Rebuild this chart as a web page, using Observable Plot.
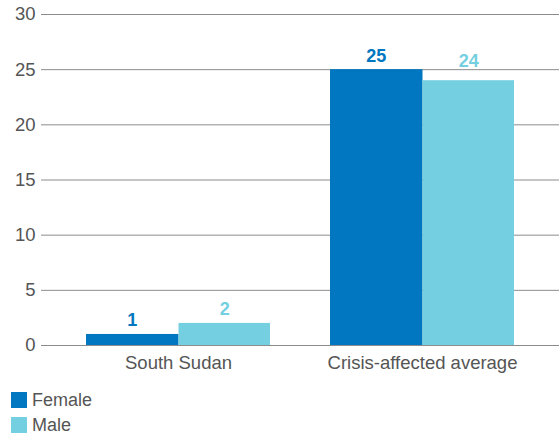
<!DOCTYPE html>
<html>
<head>
<meta charset="utf-8">
<script src="https://cdn.jsdelivr.net/npm/d3@7"></script>
<script src="https://cdn.jsdelivr.net/npm/@observablehq/plot@0.6"></script>
<style>
  body { margin: 0; background: #fff; font-family: "Liberation Sans", Arial, sans-serif; }
  .legend { margin-left: 11px; margin-top: 7px; }
  .item { display: flex; align-items: center; height: 25px; font-size: 18px; line-height: 20px; color: #555; }
  .sw { width: 16px; height: 16px; margin-right: 5px; }
</style>
</head>
<body>
<div id="chart"></div>
<div class="legend" id="legend"></div>
<script>
const categories = ["South Sudan", "Crisis-affected average"];
const seriesNames = ["Female", "Male"];
const female = [1, 25];
const male = [2, 24];
const colors = ["#0077c0", "#74cfe0"];
const yTicks = [0, 5, 10, 15, 20, 25, 30];

const femaleData = categories.map((c, i) => ({cat: c, value: female[i]}));
const maleData = categories.map((c, i) => ({cat: c, value: male[i]}));

const half = 92.5;
// labels that would sit on a gridline are lifted above it
const crowded = d => yTicks.some(t => t > d.value && t - d.value < 1.5);
const labelMarks = (data, color, dxv) => [
  Plot.text(data.filter(d => !crowded(d)), {x: "cat", y: "value", text: "value", dx: dxv, dy: -8, lineAnchor: "bottom", fill: color, fontWeight: "bold", fontSize: 18}),
  Plot.text(data.filter(crowded), {x: "cat", y: "value", text: "value", dx: dxv, dy: -14, lineAnchor: "bottom", fill: color, fontWeight: "bold", fontSize: 18})
];

const chart = Plot.plot({
  width: 559,
  height: 380,
  marginLeft: 41,
  marginRight: 0,
  marginTop: 14,
  marginBottom: 35,
  style: {fontFamily: "'Liberation Sans', Arial, sans-serif", fontSize: "18px", color: "#555", background: "#fff"},
  x: {domain: categories, paddingInner: 0.245, paddingOuter: 0.18, label: null},
  y: {domain: [0, 30], ticks: yTicks, label: null},
  marks: [
    Plot.ruleY(yTicks, {stroke: "#8c8c8c", strokeWidth: 1}),
    Plot.barY(femaleData, {x: "cat", y: "value", fill: colors[0], insetRight: half - 1}),
    Plot.barY(maleData, {x: "cat", y: "value", fill: colors[1], insetLeft: half}),
    ...labelMarks(femaleData, colors[0], -half / 2),
    ...labelMarks(maleData, colors[1], half / 2),
    Plot.axisY(yTicks, {tickSize: 0, tickPadding: 6, fontSize: 18.5, label: null}),
    Plot.axisX({tickSize: 0, tickPadding: 10, fontSize: 18.5, label: null})
  ]
});
document.getElementById("chart").append(chart);

const legend = document.getElementById("legend");
seriesNames.forEach((name, i) => {
  const row = document.createElement("div");
  row.className = "item";
  const sw = document.createElement("div");
  sw.className = "sw";
  sw.style.background = colors[i];
  const lab = document.createElement("span");
  lab.textContent = name;
  row.append(sw, lab);
  legend.append(row);
});
</script>
</body>
</html>
